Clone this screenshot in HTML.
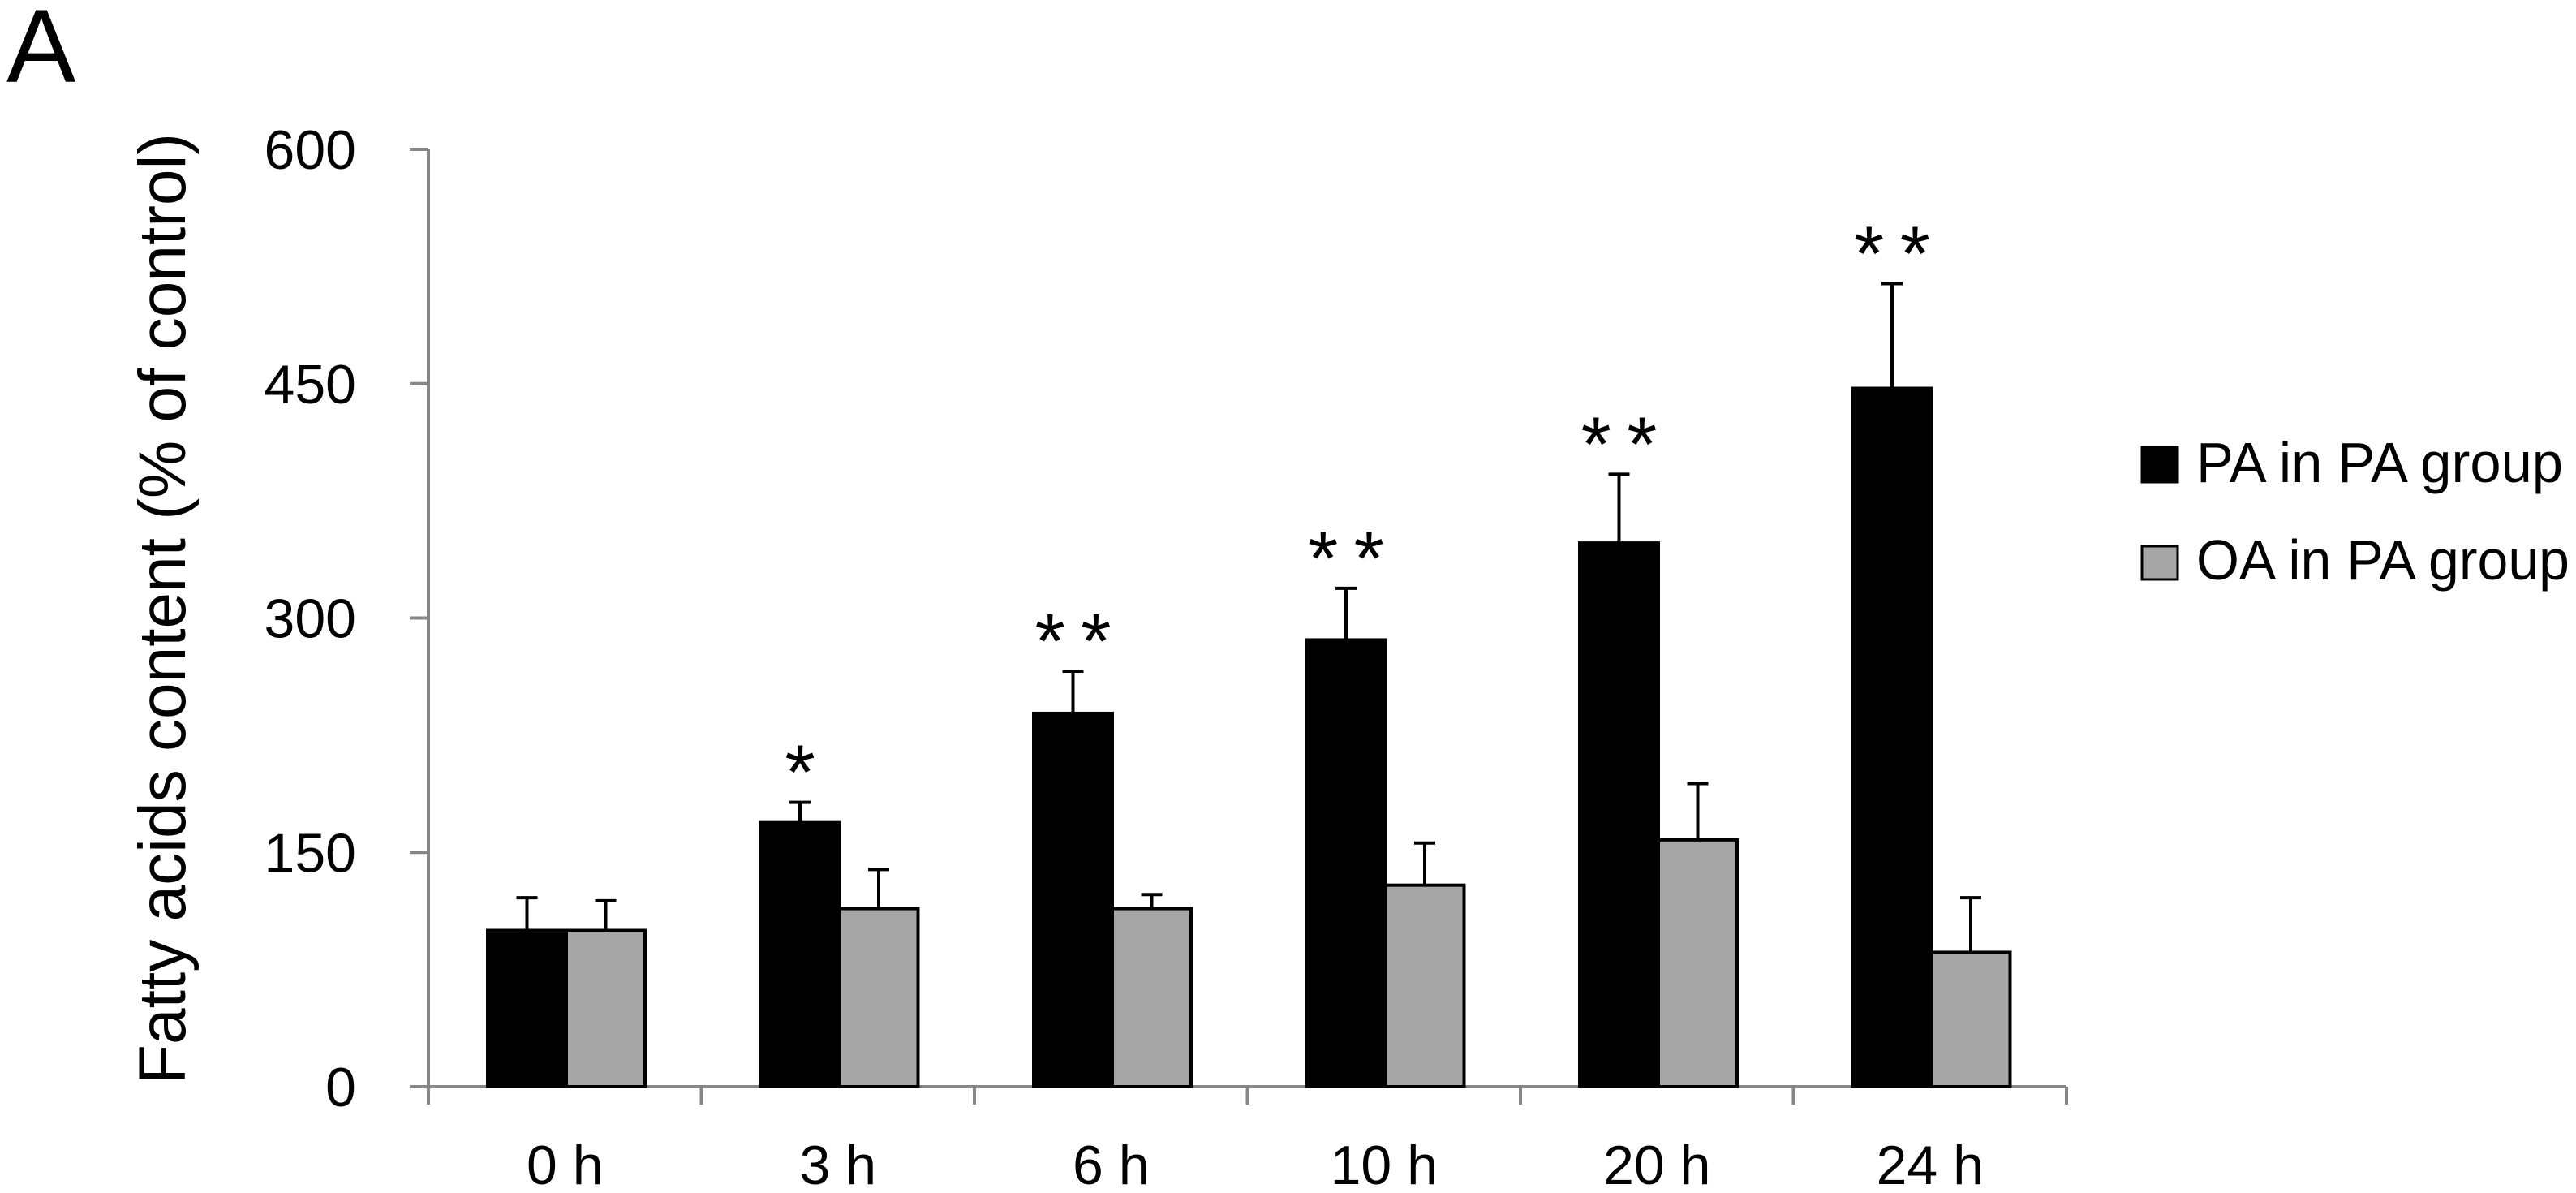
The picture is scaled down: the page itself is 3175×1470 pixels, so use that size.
<!DOCTYPE html>
<html><head><meta charset="utf-8"><style>
html,body{margin:0;padding:0;background:#fff;}
svg{display:block;font-family:"Liberation Sans",sans-serif;}
</style></head><body>
<svg id="chart" width="3175" height="1470" viewBox="0 0 3175 1470" xmlns="http://www.w3.org/2000/svg">
<text x="8" y="101" font-size="128">A</text>
<text transform="translate(228,750) rotate(-90)" text-anchor="middle" font-size="82" textLength="1172" lengthAdjust="spacingAndGlyphs">Fatty acids content  (% of control)</text>
<g id="axes"></g>
<g id="bars"></g>
<g>
<rect x="2640" y="551" width="44" height="43" fill="#000" stroke="#000" stroke-width="3"/>
<text x="2707" y="594" font-size="70" textLength="452" lengthAdjust="spacingAndGlyphs">PA in PA group</text>
<rect x="2640" y="673" width="44" height="41" fill="#a6a6a6" stroke="#000" stroke-width="3"/>
<text x="2707" y="714" font-size="70" textLength="460" lengthAdjust="spacingAndGlyphs">OA in PA group</text>
</g>
</svg>
<script>
const categories = ["0 h","3 h","6 h","10 h","20 h","24 h"];
const paValues = [100,169,239,286,348,447];
const paErrors = [21,13,27,33,44,67];
const oaValues = [100,114,114,129,158,86];
const oaErrors = [19,25,9,27,36,35];
const stars = ["","*","**","**","**","**"];
const yTicks = [0,150,300,450,600];

const NS="http://www.w3.org/2000/svg";
const x0=528, catW=336.5, y0=1339, yTop=184, yMax=600;
const ys=v=>y0-(v/yMax)*(y0-yTop);
const xc=i=>x0+i*catW;
function mk(tag,attrs,parent){const e=document.createElementNS(NS,tag);for(const k in attrs)e.setAttribute(k,attrs[k]);parent.appendChild(e);return e;}
const axes=document.getElementById('axes'), bars=document.getElementById('bars');
const ax=mk('line',{x1:x0,y1:ys(yMax),x2:x0,y2:y0+22,stroke:'#868686','stroke-width':4},axes);


yTicks.forEach(t=>{
  const l=mk('line',{x1:x0-23,y1:ys(t),x2:x0,y2:ys(t),stroke:'#868686','stroke-width':4},axes);
  
  
  const tx=mk('text',{x:439,y:ys(t)+24,'text-anchor':'end','font-size':68},axes);
  tx.textContent=t;
  
  
});
const xa=mk('line',{x1:x0-23,y1:y0,x2:x0+categories.length*catW,y2:y0,stroke:'#868686','stroke-width':4},axes);


for(let i=0;i<=categories.length;i++){
  const l=mk('line',{x1:xc(i),y1:y0,x2:xc(i),y2:y0+22,stroke:'#868686','stroke-width':4},axes);
  
  
}
categories.forEach((c,i)=>{
  const tx=mk('text',{x:xc(i)+catW/2,y:1459,'text-anchor':'middle','font-size':68},axes);
  tx.textContent=c;
  
  
  const bw=97, bx=xc(i)+73;
  [[paValues[i],paErrors[i],'#000',bx,'pa'],[oaValues[i],oaErrors[i],'#a6a6a6',bx+bw,'oa']].forEach(([v,e,f,x,s])=>{
    const cx=x+bw/2;
    const el=mk('line',{x1:cx,y1:ys(v),x2:cx,y2:ys(v+e),stroke:'#000','stroke-width':4},bars);
    
    
    const cap=mk('line',{x1:cx-13,y1:ys(v+e),x2:cx+13,y2:ys(v+e),stroke:'#000','stroke-width':4},bars);
    
    
    const r=mk('rect',{x:x,y:ys(v),width:bw,height:y0-ys(v),fill:f,stroke:'#000','stroke-width':4},bars);
    
    
  });
  if(stars[i]){
    const st=mk('text',{x:bx+bw/2,y:ys(paValues[i]+paErrors[i])-4,'text-anchor':'middle','font-size':96},bars);
    st.textContent=stars[i].split('').join('\u2009');
    
    
  }
});
</script>
</body></html>
